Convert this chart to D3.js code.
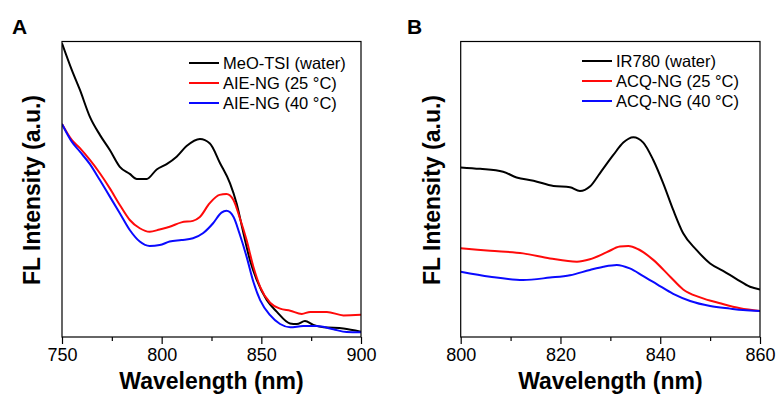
<!DOCTYPE html>
<html><head><meta charset="utf-8">
<script src="https://cdn.jsdelivr.net/npm/d3@7"></script>
<style>body{margin:0;background:#fff}svg{display:block}</style>
</head><body><svg id="c" width="780" height="399"></svg>
<script>
// Panel A data
const aWave = [750,754.9,759,764,769,774,779,784,787.5,792.5,797.5,802.5,807.5,812.5,819.2,824.2,829.3,834.3,837.6,841,844.3,847.7,852.7,857.7,864.4,867.8,871.9,876.1,881.2,891.2,900];
const aBlack = [99.4,90.4,83.6,74.5,68.4,63.3,57.6,55.2,53.5,53.5,56.7,58.5,61.0,64.6,67.0,65.5,58.8,52.0,45.2,35.2,26.0,19.3,12.5,8.6,4.6,4.4,5.4,4.1,3.3,2.9,1.8];
const aWaveR = [750,754.9,759,764,769,774,779,784,789,794,799,804,809.9,815.7,819,824,829,832.5,836,839,842.6,846,849.4,854.4,859.4,864.5,870.3,874.5,882.9,891.2,900];
const aRed = [72.1,66.7,63.9,59.9,55.4,50.3,44.7,39.6,36.8,35.6,36.4,37.3,38.8,39.3,40.5,45.2,48.1,48.4,46.4,40.7,32.8,23.8,17.0,11.6,9.6,8.9,7.8,8.5,8.5,7.3,7.5];
const aWaveB = [750,754.9,759,764,769,774,779,784,789,794,799,804,809.9,815.7,820.7,825.8,830,832.5,836,839,842.6,846,849.4,854.4,859.4,864.5,871,877.8,886.1,892.8,900];
const aBlue = [72.1,66.1,62.7,58.5,53.1,47.5,41.9,36.2,32.3,30.8,31.1,32.3,32.8,33.4,35.1,38.5,42.1,42.7,40.7,35.1,27.2,18.7,12.5,7.4,4.4,3.3,3.7,3.7,2.6,1.7,1.6];
const aLabels = ["MeO-TSI (water)","AIE-NG (25 °C)","AIE-NG (40 °C)"];
const aTicks = [750,800,850,900];
const aMinor = [775,825,875];

// Panel B data
const bWaveK = [800,803.9,808.5,811.2,814.6,818.6,821.9,823.9,825.9,827.9,830.6,832.6,834.6,836.6,838.6,840.6,842.6,844.6,847.3,850,852.6,855.3,858,860];
const bBlack = [57.4,56.9,55.9,54.0,52.9,51.1,50.7,49.4,50.9,55.4,61.6,65.8,67.6,65.8,59.9,52.0,43.0,35.1,29.4,24.9,22.4,19.6,17.0,16.1];
const bWaveR = [800,805.9,812.5,817.9,823.3,825.9,829.3,831.9,833.6,835.6,838.6,842,844.6,848,852,856,860];
const bRed = [30.0,29.2,28.3,26.6,25.5,26.3,28.7,30.6,30.8,29.7,26.1,20.4,16.1,13.4,11.4,9.7,8.8];
const bWaveB = [800,805.9,812.5,817.9,821.9,825.9,828.6,831.3,833.9,836.6,839.3,842.6,846,850,854,856.6,860];
const bBlue = [22.1,20.4,19.3,20.1,20.9,22.7,23.8,24.4,23.2,20.6,17.9,14.6,12.2,10.5,9.6,9.1,8.8];
const bLabels = ["IR780 (water)","ACQ-NG (25 °C)","ACQ-NG (40 °C)"];
const bTicks = [800,820,840,860];
const bMinor = [810,830,850];

const colors = ["#000000","#ff0a0a","#0a0aff"];
const svg = d3.select("#c");
const FONT = "Arial, 'Liberation Sans', Helvetica, sans-serif";

function panel(opt){
  const {left,right,top,bottom,domain,ticks,minor,series,labels,letter,letterX,legX,legY,ylabX} = opt;
  const g = svg.append("g");
  const x = d3.scaleLinear().domain(domain).range([left,right]);
  const y = d3.scaleLinear().domain([0,100]).range([bottom,top]);
  const clipId = "clip"+letter;
  svg.append("clipPath").attr("id",clipId).append("rect")
    .attr("x",left).attr("y",top).attr("width",right-left).attr("height",bottom-top);
  const line = d3.line().x(d=>x(d[0])).y(d=>y(d[1])).curve(d3.curveMonotoneX);
  series.forEach((s,i)=>{
    g.append("path").datum(d3.zip(s[0],s[1]))
      .attr("d",line).attr("fill","none").attr("stroke",colors[i])
      .attr("stroke-width",2).attr("stroke-linejoin","round")
      .attr("clip-path","url(#"+clipId+")");
  });
  // frame
  g.append("rect").attr("x",left).attr("y",top).attr("width",right-left).attr("height",bottom-top)
    .attr("fill","none").attr("stroke","#000").attr("stroke-width",1.2);
  // major ticks
  const ax = g.append("g").attr("transform",`translate(0,${bottom})`)
    .call(d3.axisBottom(x).tickValues(ticks).tickSize(7).tickPadding(4).tickFormat(d3.format("d")));
  ax.select(".domain").remove();
  ax.selectAll("line").attr("stroke","#000").attr("stroke-width",1.2);
  ax.selectAll("text").attr("font-family",FONT).attr("font-size",18).attr("fill","#000");
  const mx = g.append("g").attr("transform",`translate(0,${bottom})`)
    .call(d3.axisBottom(x).tickValues(minor).tickSize(4).tickFormat(""));
  mx.select(".domain").remove();
  mx.selectAll("line").attr("stroke","#000").attr("stroke-width",1.2);
  // x title
  g.append("text").attr("x",(left+right)/2).attr("y",389).attr("text-anchor","middle")
    .attr("font-family",FONT).attr("font-weight","bold").attr("font-size",23).text("Wavelength (nm)");
  // y title
  g.append("text").attr("transform",`translate(${ylabX},190) rotate(-90)`).attr("text-anchor","middle")
    .attr("font-family",FONT).attr("font-weight","bold").attr("font-size",23).text("FL Intensity (a.u.)");
  // letter
  g.append("text").attr("x",letterX).attr("y",34).attr("font-family",FONT).attr("font-weight","bold")
    .attr("font-size",21).text(letter);
  // legend
  labels.forEach((t,i)=>{
    const yy = legY + i*20;
    g.append("line").attr("x1",legX).attr("x2",legX+30).attr("y1",yy).attr("y2",yy)
      .attr("stroke",colors[i]).attr("stroke-width",2);
    g.append("text").attr("x",legX+34).attr("y",yy+5.5).attr("font-family",FONT)
      .attr("font-size",16.5).text(t);
  });
}

panel({left:62,right:361,top:41.5,bottom:337,domain:[750,900],ticks:aTicks,minor:aMinor,
  series:[[aWave,aBlack],[aWaveR,aRed],[aWaveB,aBlue]],labels:aLabels,letter:"A",letterX:12,
  legX:189,legY:63,ylabX:39.5});
panel({left:460.7,right:760,top:41.5,bottom:337,domain:[800,860],ticks:bTicks,minor:bMinor,
  series:[[bWaveK,bBlack],[bWaveR,bRed],[bWaveB,bBlue]],labels:bLabels,letter:"B",letterX:407,
  legX:582,legY:61,ylabX:439.5});
</script></body></html>
